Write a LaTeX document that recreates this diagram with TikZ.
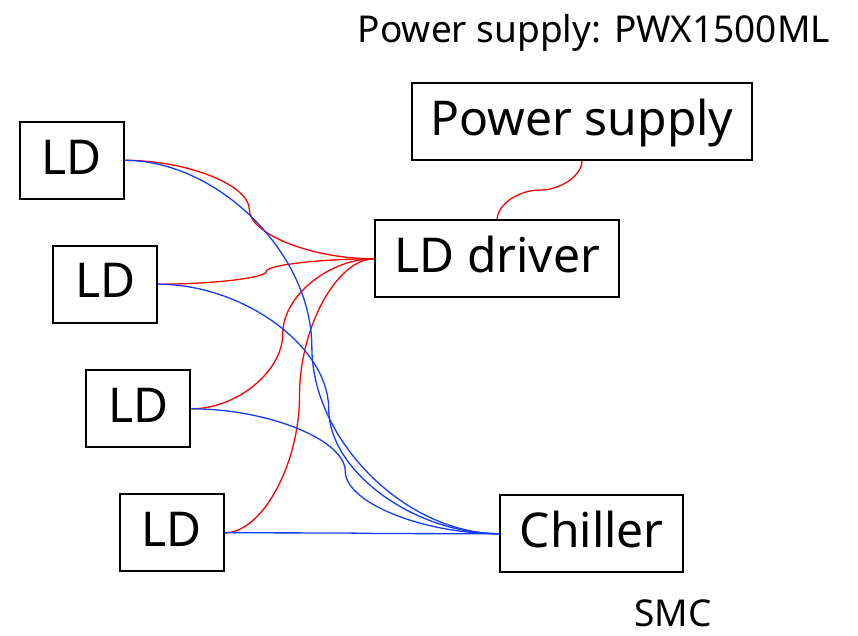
\documentclass[tikz,border=0pt]{standalone}
\usepackage{fontspec}
\setmainfont{Noto Sans}
\usetikzlibrary{calc}
\definecolor{wred}{RGB}{255,0,0}
\definecolor{wblue}{RGB}{20,60,255}
\newcommand\hconn[3]{%
  \draw[#1] let \p1=(#2), \p2=(#3) in
   (\p1) .. controls ({0.75*\x1+0.25*\x2},\y1) and ({0.5*\x1+0.5*\x2},{0.75*\y1+0.25*\y2}) ..
   ({0.5*\x1+0.5*\x2},{0.5*\y1+0.5*\y2})
   .. controls ({0.5*\x1+0.5*\x2},{0.25*\y1+0.75*\y2}) and ({0.25*\x1+0.75*\x2},\y2) .. (\p2);}
\newcommand\vconn[3]{%
  \draw[#1] let \p1=(#2), \p2=(#3) in
   (\p1) .. controls (\x1,{0.75*\y1+0.25*\y2}) and ({0.75*\x1+0.25*\x2},{0.5*\y1+0.5*\y2}) ..
   ({0.5*\x1+0.5*\x2},{0.5*\y1+0.5*\y2})
   .. controls ({0.25*\x1+0.75*\x2},{0.5*\y1+0.5*\y2}) and (\x2,{0.25*\y1+0.75*\y2}) .. (\p2);}
\begin{document}
\begin{tikzpicture}[x=1pt,y=-1pt,
  box/.style={draw=black,line width=2pt,rectangle,inner sep=0pt,
    font=\fontsize{48}{56}\selectfont,text height=36pt,text depth=8.6pt,
    minimum height=77pt},
  label/.style={font=\fontsize{37}{44}\selectfont,anchor=base,inner sep=0pt,text depth=0pt},
  redw/.style={draw=wred,line width=1.3pt},
  bluew/.style={draw=wblue,line width=1.3pt}]
\useasboundingbox (0,0) rectangle (858,635);
\node[label] (title) at (594,42) {Power supply: PWX1500ML};
\node[label] (smc) at (673,626) {SMC};
\node[box,minimum width=104pt] (ld1) at (71.5,160.3) {LD};
\node[box,minimum width=104pt] (ld2) at (105.2,284.2) {LD};
\node[box,minimum width=104pt] (ld3) at (138.3,408.8) {LD};
\node[box,minimum width=104pt] (ld4) at (171.8,532.8) {LD};
\node[box,minimum width=244pt] (drv) at (497.2,258.8) {LD driver};
\node[box,minimum width=183pt] (chl) at (591.7,533.7) {Chiller};
\node[box,minimum width=340.6pt] (ps) at (582,121.3) {Power supply};
\vconn{redw}{ps.south}{drv.north}
\hconn{redw}{ld1.east}{drv.west}
\hconn{redw}{ld2.east}{drv.west}
\hconn{redw}{ld3.east}{drv.west}
\hconn{redw}{ld4.east}{drv.west}
\hconn{bluew}{ld1.east}{chl.west}
\hconn{bluew}{ld2.east}{chl.west}
\hconn{bluew}{ld3.east}{chl.west}
\hconn{bluew}{ld4.east}{chl.west}
\end{tikzpicture}
\end{document}
